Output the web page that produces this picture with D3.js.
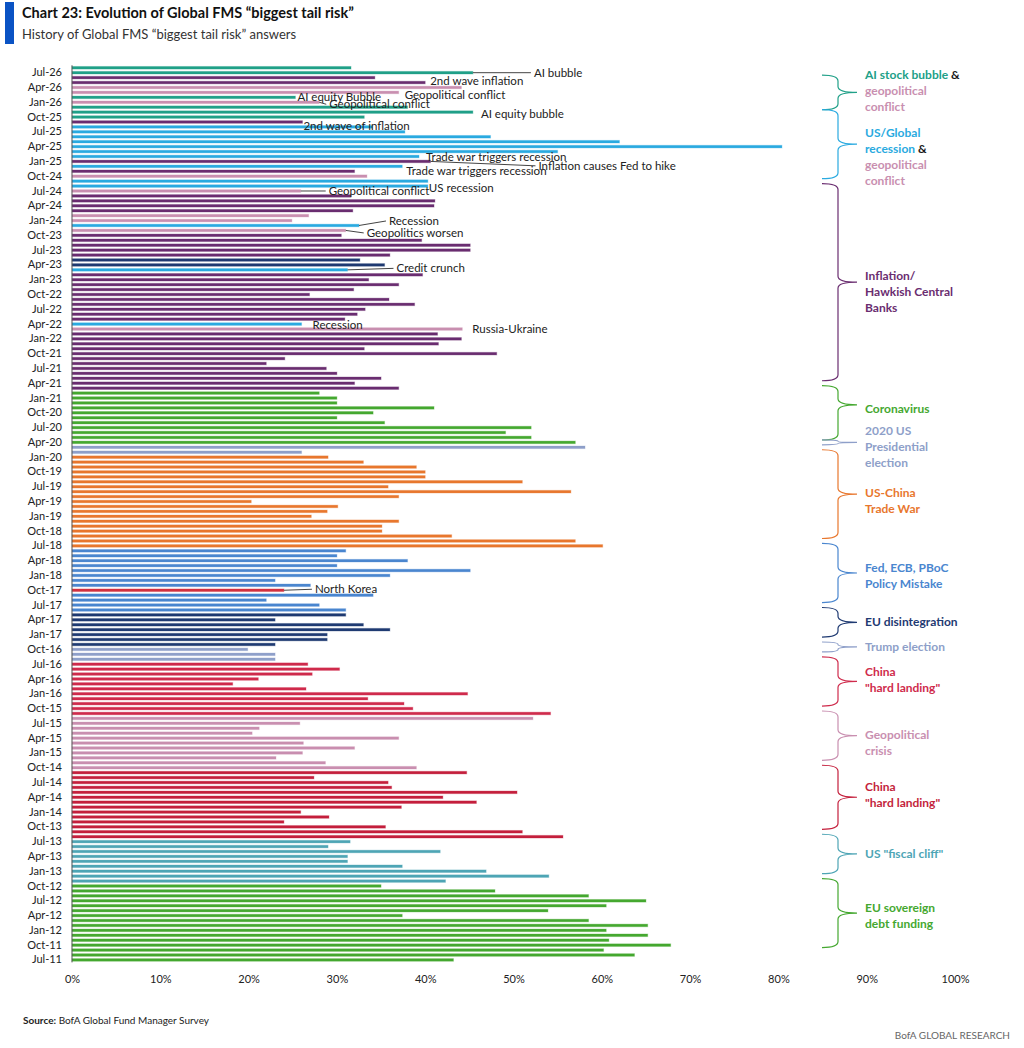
<!DOCTYPE html>
<html>
<head>
<meta charset="utf-8">
<script src="https://cdn.jsdelivr.net/npm/d3@7"></script>
<style>
  body { margin: 0; background: #fff; }
  text { font-family: Lato, "Open Sans", sans-serif; }
</style>
</head>
<body>
<div id="chart"></div>
<script>
// **** THE DATA ****

// one survey month per bar, Jul-11 (bottom) up to Aug-26 (top)
const months = d3.timeMonth.range(new Date(2011, 6, 1), new Date(2026, 8, 1))
  .map(d3.timeFormat("%b-%y"))

// share of answers for the top tail risk, %
const share = [
  // 2011 Jul-Dec
  43.2, 63.7, 60.2, 67.8, 60.8, 65.2,
  // 2012
  60.5, 65.2, 58.5, 37.4, 53.9, 60.5, 65.0, 58.5, 47.9, 35.0, 42.3, 54.0,
  // 2013
  46.9, 37.4, 31.2, 31.2, 41.7, 29.0, 31.5, 55.6, 51.0, 35.5, 24.0, 29.1,
  // 2014
  25.9, 37.3, 45.8, 42.0, 50.4, 36.2, 35.8, 27.4, 44.7, 39.0, 28.7, 23.1,
  // 2015
  26.1, 32.0, 26.2, 37.0, 20.4, 21.2, 25.8, 52.2, 54.2, 38.6, 37.6, 33.5,
  // 2016
  44.8, 26.5, 18.2, 21.1, 27.2, 30.3, 26.7, 23.0, 23.0, 19.9, 23.0, 28.9,
  // 2017
  28.9, 36.0, 33.0, 23.0, 31.0, 31.0, 28.0, 22.0, 34.1, 24.0, 27.0, 23.0,
  // 2018
  36.0, 45.1, 30.0, 38.0, 30.0, 31.0, 60.1, 57.0, 43.0, 35.1, 35.1, 37.0,
  // 2019
  27.1, 28.9, 30.1, 20.3, 37.0, 56.5, 35.8, 51.0, 40.0, 40.0, 39.0, 33.0,
  // 2020
  29.0, 26.0, 58.1, 57.0, 52.0, 49.1, 52.0, 35.4, 30.0, 34.1, 41.0, 30.0,
  // 2021
  30.0, 28.0, 37.0, 32.0, 35.0, 30.0, 28.8, 22.0, 24.1, 48.1, 33.1, 41.5,
  // 2022
  44.1, 41.4, 44.2, 26.0, 30.9, 32.3, 33.2, 38.8, 35.9, 26.9, 31.9, 37.0,
  // 2023
  33.6, 39.7, 31.2, 35.4, 32.6, 36.0, 45.1, 45.1, 39.6, 30.5, 31.0, 32.5,
  // 2024
  24.9, 26.8, 31.8, 41.0, 41.1, 31.6, 25.9, 40.3, 40.3, 33.4, 32.0, 37.4,
  // 2025
  40.6, 39.3, 55.0, 80.4, 62.0, 47.4, 37.7, 34.0, 26.1, 33.1, 45.4, 38.0,
  // 2026 Jan-Aug
  28.0, 25.3, 37.0, 44.1, 40.0, 34.3, 45.4, 31.6
]

// which risk each bar is
const risk = [
  "eusov", "eusov", "eusov", "eusov", "eusov", "eusov",
  "eusov", "eusov", "eusov", "eusov", "eusov", "eusov", "eusov", "eusov", "eusov", "eusov", "fiscal", "fiscal",
  "fiscal", "fiscal", "fiscal", "fiscal", "fiscal", "fiscal", "fiscal", "china2", "china2", "china2", "china2", "china2",
  "china2", "china2", "china2", "china2", "china2", "china2", "china2", "china2", "china2", "geo", "geo", "geo",
  "geo", "geo", "geo", "geo", "geo", "geo", "geo", "geo", "china", "china", "china", "china",
  "china", "china", "china", "china", "china", "china", "china", "elec", "elec", "elec", "eu", "eu",
  "eu", "eu", "eu", "eu", "eu", "fed", "fed", "fed", "fed", "nk", "fed", "fed",
  "fed", "fed", "fed", "fed", "fed", "fed", "trade", "trade", "trade", "trade", "trade", "trade",
  "trade", "trade", "trade", "trade", "trade", "trade", "trade", "trade", "trade", "trade", "trade", "trade",
  "trade", "elec", "elec", "covid", "covid", "covid", "covid", "covid", "covid", "covid", "covid", "covid",
  "covid", "covid", "infl", "infl", "infl", "infl", "infl", "infl", "infl", "infl", "infl", "infl",
  "infl", "infl", "geo", "rec", "infl", "infl", "infl", "infl", "infl", "infl", "infl", "infl",
  "infl", "infl", "rec", "navy", "navy", "infl", "infl", "infl", "infl", "infl", "geo", "rec",
  "geo", "geo", "infl", "infl", "infl", "infl", "geo", "rec", "rec", "geo", "infl", "rec",
  "infl", "rec", "rec", "rec", "rec", "rec", "rec", "rec", "infl", "ai", "ai", "ai",
  "geo", "ai", "geo", "geo", "infl", "infl", "ai", "ai"
]

const riskColor = {
  eusov: "#45a830", covid: "#45a830", fiscal: "#4ea5b5", china2: "#c41f3c",
  china: "#cf2b4c", nk: "#d2303f", geo: "#c98fb0", elec: "#8e9fc9",
  eu: "#1f3a72", navy: "#1f3a72", fed: "#4a86cf", trade: "#e8772e",
  infl: "#6a2d70", rec: "#2aaae0", ai: "#20a088", ink: "#1a1a1a"
}

// y tick labels (every third month) and x tick values
const tickMonths = months.filter((m, i) => i % 3 === 0)
const xTicks = [0, 10, 20, 30, 40, 50, 60, 70, 80, 90, 100]

// called-out answers
const callouts = [
  { month: "Jul-26", text: "AI bubble" },
  { month: "May-26", text: "2nd wave inflation" },
  { month: "Mar-26", text: "Geopolitical conflict" },
  { month: "Feb-26", text: "AI equity Bubble" },
  { month: "Jan-26", text: "Geopolitical conflict" },
  { month: "Nov-25", text: "AI equity bubble" },
  { month: "Sep-25", text: "2nd wave of inflation" },
  { month: "Feb-25", text: "Trade war triggers recession" },
  { month: "Jan-25", text: "Inflation causes Fed to hike" },
  { month: "Dec-24", text: "Trade war triggers recession" },
  { month: "Aug-24", text: "US recession" },
  { month: "Jul-24", text: "Geopolitical conflict" },
  { month: "Dec-23", text: "Recession" },
  { month: "Nov-23", text: "Geopolitics worsen" },
  { month: "Mar-23", text: "Credit crunch" },
  { month: "Apr-22", text: "Recession" },
  { month: "Mar-22", text: "Russia-Ukraine" },
  { month: "Oct-17", text: "North Korea" }
]

// regimes marked with braces on the right: first month, last month, label lines
const regimes = [
  { from: "Jun-26", to: "Dec-25", color: "ai",
    lines: [[["AI stock bubble", "ai"], [" &", "ink"]], [["geopolitical", "geo"]], [["conflict", "geo"]]] },
  { from: "Nov-25", to: "Oct-24", color: "rec",
    lines: [[["US/Global", "rec"]], [["recession", "rec"], [" &", "ink"]], [["geopolitical", "geo"]], [["conflict", "geo"]]] },
  { from: "Aug-24", to: "May-21", color: "infl",
    lines: [[["Inflation/", "infl"]], [["Hawkish Central", "infl"]], [["Banks", "infl"]]] },
  { from: "Mar-21", to: "May-20", color: "covid", lines: [[["Coronavirus", "covid"]]] },
  { from: "Apr-20", to: "Apr-20", color: "elec",
    lines: [[["2020 US", "elec"]], [["Presidential", "elec"]], [["election", "elec"]]] },
  { from: "Feb-20", to: "Sep-18", color: "trade", lines: [[["US-China", "trade"]], [["Trade War", "trade"]]] },
  { from: "Jul-18", to: "Aug-17", color: "fed", lines: [[["Fed, ECB, PBoC", "fed"]], [["Policy Mistake", "fed"]]] },
  { from: "Jun-17", to: "Jan-17", color: "eu", lines: [[["EU disintegration", "eu"]]] },
  { from: "Nov-16", to: "Oct-16", color: "elec", lines: [[["Trump election", "elec"]]] },
  { from: "Aug-16", to: "Nov-15", color: "china", lines: [[["China", "china"]], [["\"hard landing\"", "china"]]] },
  { from: "Sep-15", to: "Dec-14", color: "geo", lines: [[["Geopolitical", "geo"]], [["crisis", "geo"]]] },
  { from: "Oct-14", to: "Oct-13", color: "china2", lines: [[["China", "china2"]], [["\"hard landing\"", "china2"]]] },
  { from: "Aug-13", to: "Jan-13", color: "fiscal", lines: [[["US \"fiscal cliff\"", "fiscal"]]] },
  { from: "Nov-12", to: "Oct-11", color: "eusov", lines: [[["EU sovereign", "eusov"]], [["debt funding", "eusov"]]] }
]

//------------------------------------------------------------------------------

// **** THE SETUP ****

const W = 1024, H = 1048

// callout placement: [dx from bar end, dy from bar centre, draw leader]
const calloutPos = {
  "Jul-26": [61, 0, true], "May-26": [5, -2, false], "Mar-26": [6, 2.5, false],
  "Feb-26": [2, 0, false], "Jan-26": [10, 2, true], "Nov-25": [8, 1.5, false],
  "Sep-25": [1, 4, false], "Feb-25": [7, 0, false], "Jan-25": [108, 4.4, true],
  "Dec-24": [4, 5, false], "Aug-24": [1, 2, false], "Jul-24": [28, 0, true],
  "Dec-23": [30, -4.5, true], "Nov-23": [21, 2.5, true], "Mar-23": [49, -1.5, true],
  "Apr-22": [11, 0.5, false], "Mar-22": [10, 0.3, false], "Oct-17": [31, -1, true]
}
// shift of each brace tip, and of its label block against the tip
const tipShift = [0, 0, 0, -8, 0, 0, 0, 0, 0, 0, 0, 0, 0, 0]
const regimeNudge = [-2, 13, 10, 4, 4.5, 7, 2.5, 0, 0, -1.5, 7, -2.5, 0, 3]

const x = d3.scaleLinear().domain([0, 100]).range([72, 955])

// top of the list = latest month
const y = d3.scaleBand()
  .domain(months.slice().reverse())
  .range([65.3, 962.4])
  .paddingInner(0.42)
  .paddingOuter(0.21)
const yc = m => y(m) + y.bandwidth() / 2

const svg = d3.select("#chart").append("svg")
  .attr("width", W)
  .attr("height", H)

// --> TITLE
svg.append("rect").attr("x", 5).attr("y", 2).attr("width", 9).attr("height", 42).attr("fill", "#0a53c4")
svg.append("text").attr("x", 22).attr("y", 18)
  .attr("font-size", 14.5).attr("font-weight", 700).attr("fill", "#111")
  .text("Chart 23: Evolution of Global FMS \u201cbiggest tail risk\u201d")
svg.append("text").attr("x", 22).attr("y", 39)
  .attr("font-size", 13).attr("fill", "#333")
  .text("History of Global FMS \u201cbiggest tail risk\u201d answers")

// --> BARS
const bars = svg.append("g")
bars.selectAll("rect")
  .data(months)
  .join("rect")
  .attr("x", x(0))
  .attr("y", m => yc(m) - 1.3)
  .attr("width", (m, i) => x(share[i]) - x(0))
  .attr("height", 2.6)
  .attr("fill", (m, i) => riskColor[risk[i]])
  .attr("stroke", (m, i) => riskColor[risk[i]])
  .attr("stroke-opacity", 0.3)
  .attr("stroke-width", 1)

// --> Y-AXIS
const yAxis = svg.append("g")
  .attr("transform", `translate(${x(0)},0)`)
  .call(d3.axisLeft(y).tickValues(tickMonths).tickSize(0).tickPadding(10))
yAxis.select(".domain").attr("stroke", "#555").attr("d", `M0,${y.range()[0]}V${y.range()[1]}`)
yAxis.selectAll("text").attr("font-size", 11).attr("fill", "#222")
  .attr("font-family", "Lato, 'Open Sans', sans-serif")

// --> X-AXIS
const xAxis = svg.append("g")
  .attr("transform", "translate(0,973)")
  .call(d3.axisBottom(x).tickValues(xTicks).tickSize(0).tickPadding(2).tickFormat(d => d + "%"))
xAxis.select(".domain").remove()
xAxis.selectAll("text").attr("font-size", 11).attr("fill", "#222")
  .attr("font-family", "Lato, 'Open Sans', sans-serif")

// --> CALLOUTS
const notes = svg.append("g")
callouts.forEach(c => {
  const i = months.indexOf(c.month)
  const [dx, dy, leader] = calloutPos[c.month]
  const x0 = x(share[i]), y0 = yc(c.month)
  if (leader) {
    notes.append("line")
      .attr("x1", x0).attr("y1", y0)
      .attr("x2", x0 + dx - 3).attr("y2", y0 + dy)
      .attr("stroke", "#444").attr("stroke-width", 1)
  }
  notes.append("text")
    .attr("x", x0 + dx).attr("y", y0 + dy)
    .attr("dy", "0.35em")
    .attr("font-size", 11.5).attr("fill", "#222")
    .text(c.text)
})

// --> BRACES
const bx0 = 822, bx1 = 838, bx2 = 857
const braces = svg.append("g").attr("fill", "none").attr("stroke-width", 1.2)
regimes.forEach((r, k) => {
  const top = yc(r.from) - y.step() / 2
  const bot = yc(r.to) + y.step() / 2
  const tip = (top + bot) / 2 + tipShift[k]
  const c = Math.min(6, (tip - top) / 2, (bot - tip) / 2)
  const p = d3.path()
  p.moveTo(bx0, top)
  p.quadraticCurveTo(bx1, top, bx1, top + c)
  p.lineTo(bx1, tip - c)
  p.quadraticCurveTo(bx1, tip, bx2, tip)
  p.quadraticCurveTo(bx1, tip, bx1, tip + c)
  p.lineTo(bx1, bot - c)
  p.quadraticCurveTo(bx1, bot, bx0, bot)
  braces.append("path").attr("d", p.toString()).attr("stroke", riskColor[r.color])

  const lh = 16
  const first = tip + regimeNudge[k] - (r.lines.length - 1) * lh / 2
  r.lines.forEach((line, j) => {
    const t = svg.append("text")
      .attr("x", 865).attr("y", first + j * lh).attr("dy", "0.35em")
      .attr("font-size", 12).attr("font-weight", 700)
    line.forEach(([txt, col]) => t.append("tspan").attr("fill", riskColor[col]).text(txt))
  })
})

// --> FOOTER
const src = svg.append("text").attr("x", 23).attr("y", 1020).attr("dy", "0.35em")
  .attr("font-size", 10).attr("fill", "#222")
src.append("tspan").attr("font-weight", 700).text("Source:")
src.append("tspan").text(" BofA Global Fund Manager Survey")
svg.append("text").attr("x", 1010).attr("y", 1035).attr("dy", "0.35em")
  .attr("text-anchor", "end").attr("font-size", 10).attr("fill", "#666")
  .text("BofA GLOBAL RESEARCH")
</script>
</body>
</html>
